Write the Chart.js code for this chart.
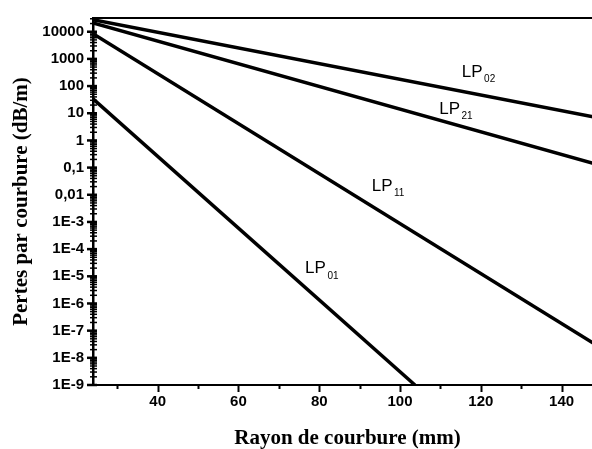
<!DOCTYPE html>
<html>
<head>
<meta charset="utf-8">
<title>Pertes par courbure</title>
<script src="https://cdn.jsdelivr.net/npm/chart.js@4.4.1/dist/chart.umd.min.js"></script>
<style>
  html, body { margin: 0; padding: 0; background: #fff; overflow: hidden; }
  .chart-container { width: 610px; height: 449px; }
</style>
</head>
<body>
<div class="chart-container">
  <canvas id="losses" width="610" height="449"></canvas>
</div>
<script>
// ends of each straight line (log scale)
const radiusLP01 = [24, 103.7];
const lossLP01 = [34, 1e-9];
const radiusLP11 = [24, 150];
const lossLP11 = [8500, 2.2e-8];
const radiusLP21 = [24, 150];
const lossLP21 = [21000, 0.117];
const radiusLP02 = [24, 150];
const lossLP02 = [27500, 6.4];

const modes = ['01', '11', '21', '02'];
const xTicks = [40, 60, 80, 100, 120, 140];
const yTicks = [1e-9, 1e-8, 1e-7, 1e-6, 1e-5, 1e-4, 1e-3, 0.01, 0.1, 1, 10, 100, 1000, 10000];
const yTickLabels = ['1E-9', '1E-8', '1E-7', '1E-6', '1E-5', '1E-4', '1E-3', '0,01', '0,1', '1', '10', '100', '1000', '10000'];

// where the "LP" labels sit, in data units (radius, loss)
const labelAt = {
  '01': [76.5, 1.3e-5],
  '11': [93, 0.014],
  '21': [109.7, 9.7],
  '02': [115.3, 219]
};

const toPoints = (xs, ys) => xs.map((x, i) => ({ x: x, y: ys[i] }));

const lineStyle = {
  showLine: true,
  borderColor: '#000',
  borderWidth: 3.5,
  pointRadius: 0,
  fill: false
};

const framePlugin = {
  id: 'frame',
  afterDraw(chart) {
    const { ctx, chartArea: a, scales: { x, y } } = chart;
    ctx.save();
    ctx.strokeStyle = '#000';
    // top and right frame
    ctx.lineWidth = 2;
    ctx.beginPath();
    ctx.moveTo(a.left, a.top);
    ctx.lineTo(a.right, a.top);
    ctx.lineTo(a.right, a.bottom);
    ctx.stroke();

    // x ticks
    for (let v = 30; v <= 150; v += 10) {
      const px = Math.round(x.getPixelForValue(v)) + 0.5;
      const len = v % 20 === 0 ? 7 : 4;
      ctx.lineWidth = 2;
      ctx.beginPath();
      ctx.moveTo(px, a.bottom);
      ctx.lineTo(px, a.bottom + len);
      ctx.stroke();
    }

    // y ticks, major and minor
    for (let k = -9; k <= 4; k++) {
      for (let m = 1; m <= 9; m++) {
        const v = m * Math.pow(10, k);
        if (v > y.max) break;
        const py = y.getPixelForValue(v);
        ctx.lineWidth = m === 1 ? 2.5 : 1.5;
        ctx.beginPath();
        if (m === 1) {
          ctx.moveTo(a.left - 6, py);
          ctx.lineTo(a.left + 4, py);
        } else {
          ctx.moveTo(a.left - 3, py);
          ctx.lineTo(a.left + 4, py);
        }
        ctx.stroke();
      }
    }

    // LP labels with subscripts
    ctx.fillStyle = '#000';
    ctx.textBaseline = 'alphabetic';
    ctx.textAlign = 'left';
    modes.forEach(mode => {
      const [rx, ly] = labelAt[mode];
      const px = x.getPixelForValue(rx);
      const py = y.getPixelForValue(ly);
      ctx.font = '17px "Liberation Sans", Arial, sans-serif';
      ctx.fillText('LP', px, py);
      const w = ctx.measureText('LP').width;
      ctx.font = '10px "Liberation Sans", Arial, sans-serif';
      ctx.fillText(mode, px + w + 1.5, py + 5.5);
    });
    ctx.restore();
  }
};

const tickFont = { family: '"Liberation Sans", Arial, sans-serif', size: 15, weight: 'bold' };
const titleFont = { family: '"Liberation Serif", "Times New Roman", serif', size: 21, weight: 'bold', lineHeight: 1 };

const ctx = document.getElementById('losses');
new Chart(ctx, {
  type: 'scatter',
  data: {
    datasets: [
      { label: 'LP01', data: toPoints(radiusLP01, lossLP01), ...lineStyle },
      { label: 'LP11', data: toPoints(radiusLP11, lossLP11), ...lineStyle },
      { label: 'LP21', data: toPoints(radiusLP21, lossLP21), ...lineStyle },
      { label: 'LP02', data: toPoints(radiusLP02, lossLP02), ...lineStyle }
    ]
  },
  options: {
    responsive: false,
    animation: false,
    devicePixelRatio: 1,
    layout: { padding: { top: 13, right: 8, left: 0, bottom: 0 } },
    plugins: {
      legend: { display: false },
      tooltip: { enabled: false }
    },
    scales: {
      x: {
        type: 'linear',
        min: 24,
        max: 150,
        grid: { display: false, drawTicks: false },
        border: { display: true, color: '#000', width: 2 },
        afterBuildTicks: scale => { scale.ticks = xTicks.map(v => ({ value: v })); },
        afterFit: scale => { scale.height = 64; },
        ticks: {
          color: '#000',
          padding: 8,
          maxRotation: 0,
          font: tickFont,
          callback: v => String(v)
        },
        title: {
          display: true,
          text: 'Rayon de courbure (mm)',
          color: '#000',
          padding: { top: 0, bottom: 0 },
          font: titleFont
        }
      },
      y: {
        type: 'logarithmic',
        min: 1e-9,
        max: 32000,
        grid: { display: false, drawTicks: false },
        border: { display: true, color: '#000', width: 2.5 },
        afterBuildTicks: scale => { scale.ticks = yTicks.map(v => ({ value: v })); },
        afterFit: scale => { scale.width = 93; },
        ticks: {
          color: '#000',
          padding: 9,
          autoSkip: false,
          font: tickFont,
          callback: (v, i) => yTickLabels[i]
        },
        title: {
          display: true,
          text: 'Pertes par courbure (dB/m)',
          color: '#000',
          padding: { top: 11, bottom: 0 },
          font: titleFont
        }
      }
    }
  },
  plugins: [framePlugin]
});
</script>
</body>
</html>
